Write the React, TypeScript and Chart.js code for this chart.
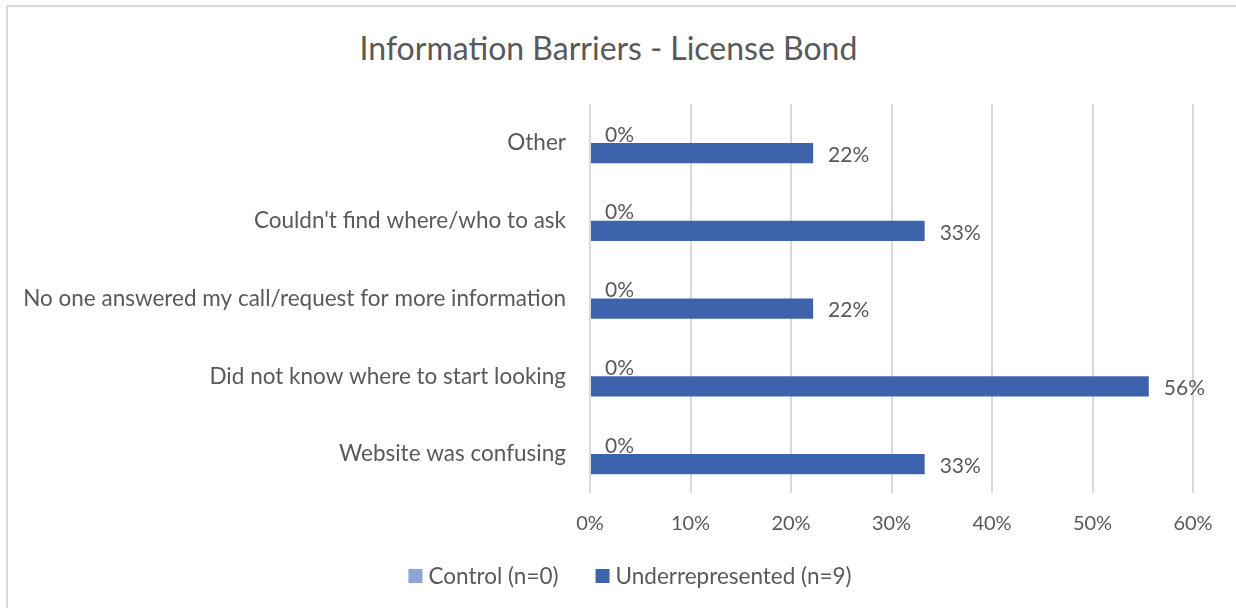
import React, { useEffect, useRef } from "react";
import { Chart, registerables } from "chart.js";

Chart.register(...registerables);

const titleText = "Information Barriers - License Bond";
const categories = [
  "Other",
  "Couldn't find where/who to ask",
  "No one answered my call/request for more information",
  "Did not know where to start looking",
  "Website was confusing",
];
const seriesNames = ["Control (n=0)", "Underrepresented (n=9)"];
const controlValues = [0, 0, 0, 0, 0];
const underrepresentedValues = [0.222, 0.333, 0.222, 0.556, 0.333];
const xMin = 0;
const xMax = 0.6;
const xStep = 0.1;

const FONT = "Lato, 'Open Sans', sans-serif";
const TEXT = "#595959";
const GRID = "#d9d9d9";
const CONTROL_COLOR = "#8fa4d4";
const UNDER_COLOR = "#3c63ac";

const pct = (v: number) => Math.round(v * 100) + "%";

const barLabelPlugin = {
  id: "barLabels",
  afterDatasetsDraw(chart: any) {
    const ctx = chart.ctx;
    ctx.save();
    ctx.font = `21px ${FONT}`;
    ctx.fillStyle = TEXT;
    ctx.textAlign = "left";
    ctx.textBaseline = "middle";
    chart.data.datasets.forEach((ds: any, i: number) => {
      const meta = chart.getDatasetMeta(i);
      meta.data.forEach((el: any, j: number) => {
        ctx.fillText(pct(ds.data[j]), el.x + 15, el.y + 2);
      });
    });
    ctx.restore();
  },
};

// Legend drawn below the x axis: swatch 14px, 6px gap to text, 37px between items
const bottomLegendPlugin = {
  id: "bottomLegend",
  afterDraw(chart: any) {
    const ctx = chart.ctx;
    const box = 14;
    const gapText = 6;
    const gapItem = 37;
    ctx.save();
    ctx.font = `22.5px ${FONT}`;
    ctx.textBaseline = "middle";
    ctx.textAlign = "left";
    const items = chart.data.datasets.map((ds: any) => ({
      text: ds.label,
      color: ds.backgroundColor,
      w: box + gapText + ctx.measureText(ds.label).width,
    }));
    const total =
      items.reduce((s: number, it: any) => s + it.w, 0) + gapItem * (items.length - 1);
    const centerX = chart.chartArea.left + 40;
    const cy = chart.chartArea.bottom + 83;
    let x = centerX - total / 2;
    items.forEach((it: any) => {
      ctx.fillStyle = it.color;
      ctx.fillRect(x, cy - box / 2, box, box);
      ctx.fillStyle = TEXT;
      ctx.fillText(it.text, x + box + gapText, cy + 1);
      x += it.w + gapItem;
    });
    ctx.restore();
  },
};

export default function App() {
  const canvasRef = useRef<HTMLCanvasElement | null>(null);

  useEffect(() => {
    document.body.style.margin = "0";
    const canvas = canvasRef.current;
    if (!canvas) return;
    const chart = new Chart(canvas, {
      type: "bar",
      data: {
        labels: categories,
        datasets: [
          {
            label: seriesNames[0],
            data: controlValues,
            backgroundColor: CONTROL_COLOR,
            borderWidth: 0,
            categoryPercentage: 0.52,
            barPercentage: 1.0,
          },
          {
            label: seriesNames[1],
            data: underrepresentedValues,
            backgroundColor: UNDER_COLOR,
            borderWidth: 0,
            categoryPercentage: 0.52,
            barPercentage: 1.0,
          },
        ],
      },
      options: {
        indexAxis: "y",
        animation: false,
        responsive: false,
        maintainAspectRatio: false,
        layout: { padding: { top: 104, left: 24, right: 43, bottom: 53 } },
        scales: {
          x: {
            min: xMin,
            max: xMax,
            grid: { color: GRID, lineWidth: 2, drawTicks: false },
            border: { display: false },
            ticks: {
              stepSize: xStep,
              padding: 19,
              color: TEXT,
              font: { family: FONT, size: 20 },
              callback: (v: any) => pct(Number(v)),
            },
          },
          y: {
            grid: { display: false, drawTicks: false },
            border: { display: false },
            ticks: {
              padding: 24,
              color: TEXT,
              font: { family: FONT, size: 22.5 },
            },
            afterFit: (scale: any) => {
              scale.width = 566;
            },
          },
        },
        plugins: {
          title: { display: false },
          tooltip: { enabled: false },
          legend: { display: false },
        },
      },
      plugins: [barLabelPlugin, bottomLegendPlugin],
    });
    return () => chart.destroy();
  }, []);

  return (
    <div
      style={{
        position: "absolute",
        left: 0,
        top: 0,
        width: 1236,
        height: 608,
        overflow: "hidden",
        background: "#fff",
      }}
    >
      <div
        style={{
          position: "absolute",
          left: 6,
          top: 5,
          width: 1250,
          height: 620,
          borderTop: `2px solid ${GRID}`,
          borderLeft: `2px solid ${GRID}`,
        }}
      />
      <div
        style={{
          position: "absolute",
          left: 0,
          top: 30,
          width: 1217,
          textAlign: "center",
          fontFamily: FONT,
          fontSize: 32,
          lineHeight: "36px",
          color: TEXT,
        }}
      >
        {titleText}
      </div>
      <canvas
        ref={canvasRef}
        width={1236}
        height={608}
        style={{ position: "absolute", left: 0, top: 0 }}
      />
    </div>
  );
}
